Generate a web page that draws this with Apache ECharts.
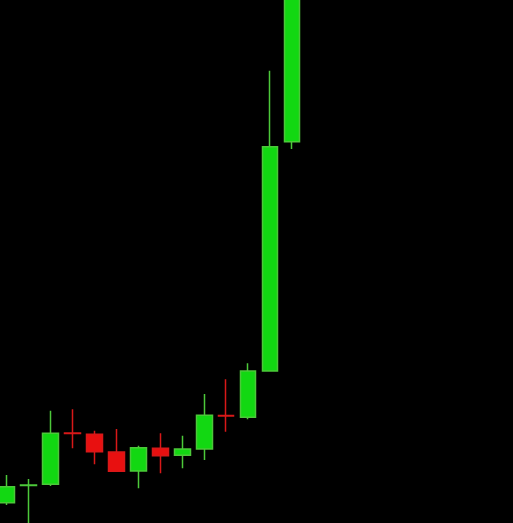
<!DOCTYPE html>
<html>
<head>
<meta charset="utf-8">
<script src="https://cdn.jsdelivr.net/npm/echarts@6/dist/echarts.min.js"></script>
<style>
html,body{margin:0;padding:0;background:#000;}
#c{width:513px;height:523px;}
</style>
</head>
<body>
<div id="c"></div>
<script>
// Categories (bar index); trailing ones are empty space to the right
const categories = ['1','2','3','4','5','6','7','8','9','10','11','12','13','14','15','16','17','18','19','20','21','22','23','24'];
// [open, close, low, high]
const opens  = [102.03, 103.75, 103.87, 108.99, 108.87, 107.10, 105.20, 107.47, 106.77, 107.40, 110.75, 110.57, 115.20, 138.13];
const closes = [103.63, 103.80, 108.97, 108.95, 107.13, 105.17, 107.53, 106.73, 107.40, 110.77, 110.71, 115.20, 137.63, 158.00];
const lows   = [101.80, 99.00, 103.70, 107.47, 105.87, 105.17, 103.47, 104.97, 105.47, 106.30, 109.13, 110.37, 115.20, 137.40];
const highs  = [104.80, 104.40, 111.23, 111.37, 109.23, 109.40, 107.73, 108.97, 108.73, 112.90, 114.37, 115.97, 145.23, 160.00];

const data = categories.map((c, i) => i < opens.length ? [opens[i], closes[i], lows[i], highs[i]] : '-');

const chart = echarts.init(document.getElementById('c'), null, {renderer: 'canvas'});
chart.setOption({
  backgroundColor: '#000000',
  animation: false,
  grid: {left: 6.7, right: 1.45, top: 0, bottom: 0},
  xAxis: {
    type: 'category', data: categories, boundaryGap: false,
    show: false
  },
  yAxis: {
    type: 'value', min: 100, max: 152.3, show: false, splitLine: {show: false}
  },
  series: [{
    type: 'candlestick',
    data: data,
    barWidth: 16,
    clip: true,
    itemStyle: {
      color: '#12d812',
      color0: '#e81010',
      borderColor: '#4cc83a',
      borderColor0: '#d81818',
      borderWidth: 1.5
    }
  }]
});
</script>
</body>
</html>
